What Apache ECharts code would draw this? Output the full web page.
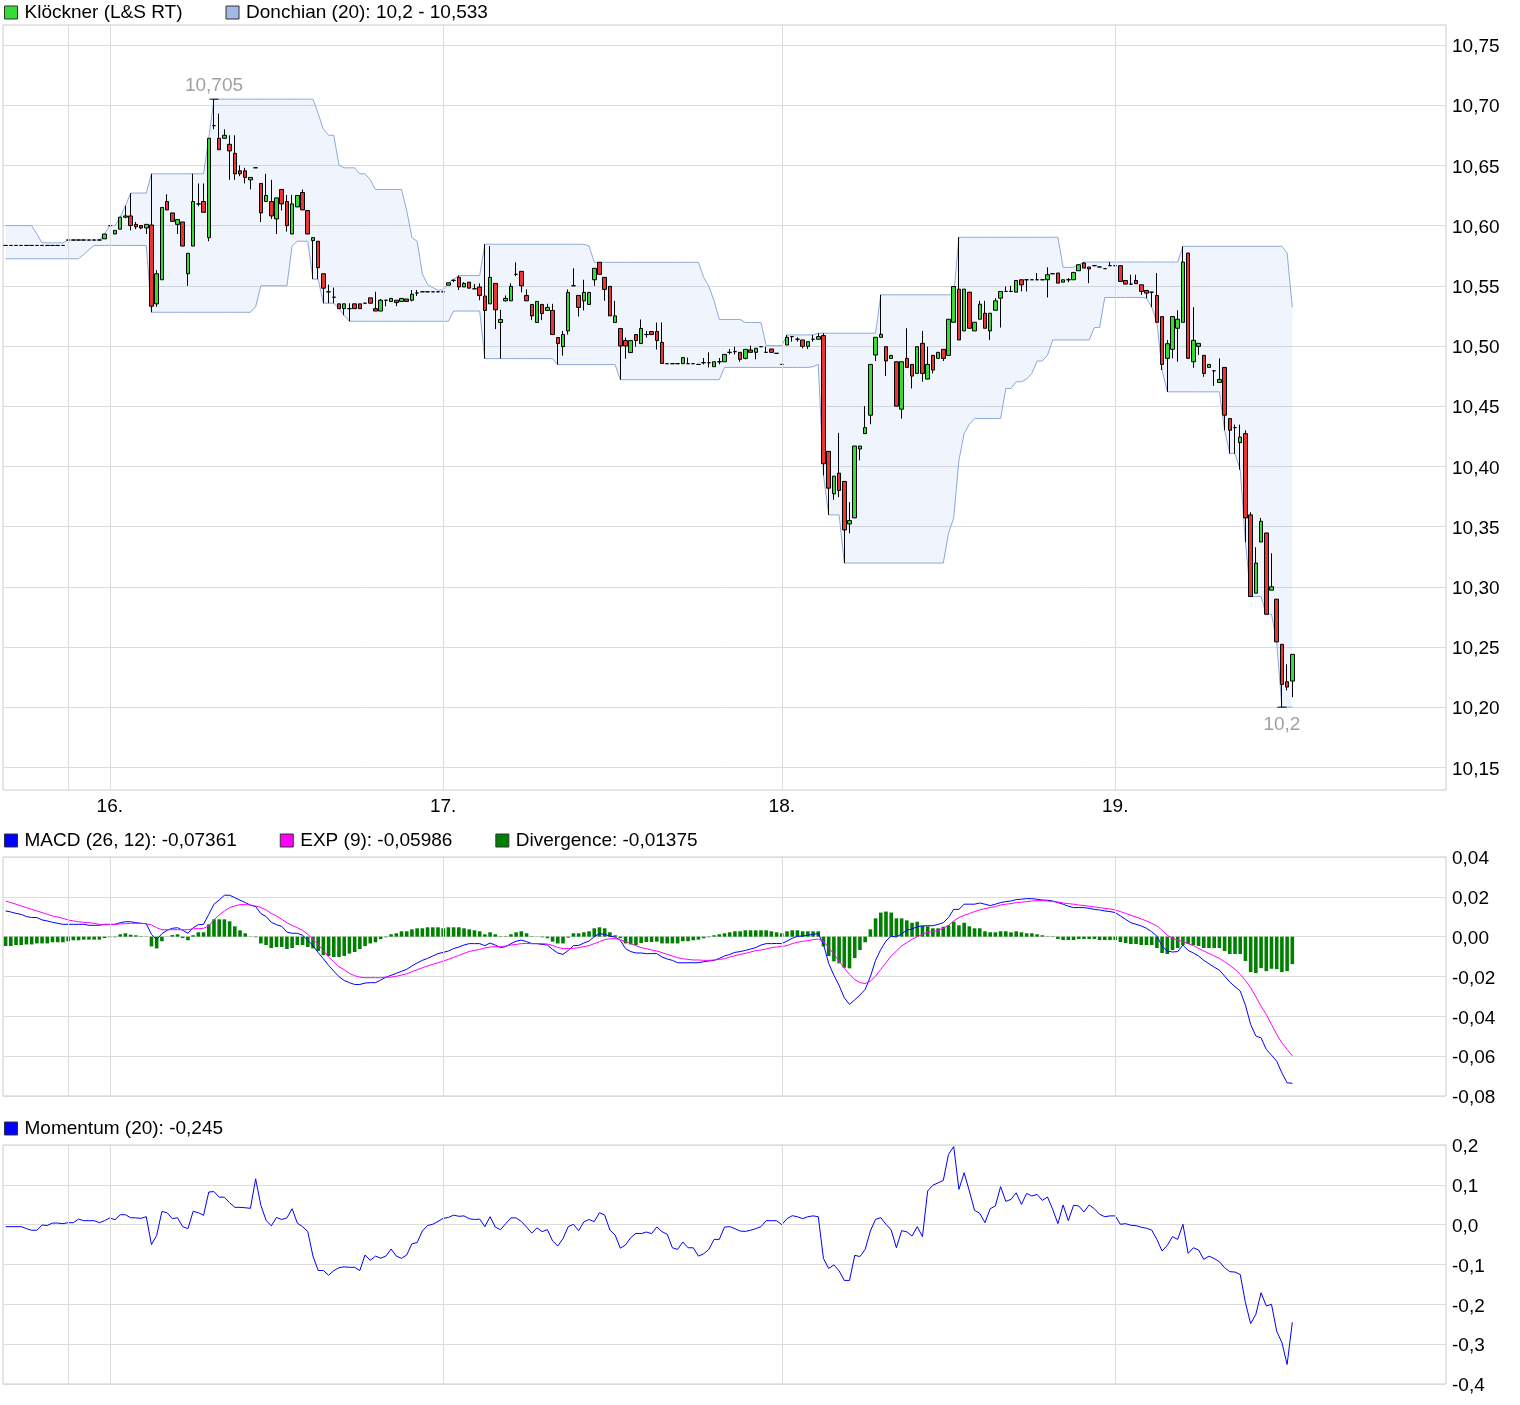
<!DOCTYPE html>
<html><head><meta charset="utf-8">
<script src="https://cdn.jsdelivr.net/npm/echarts@6.0.0/dist/echarts.min.js"></script>
<style>html,body{margin:0;padding:0;background:#fff}#c{width:1520px;height:1405px}</style>
</head><body><div id="c"></div>
<script>
// ---------- DATA ----------
// candles: [open, close, low, high]
const candles = [
[10.5835,10.5835,10.5835,10.5835],[10.5835,10.5835,10.5835,10.5835],[10.5835,10.5835,10.5835,10.5835],[10.5835,10.5835,10.5835,10.5835],
[10.5835,10.5835,10.5835,10.5835],[10.5835,10.5835,10.5835,10.5835],[10.5835,10.5835,10.5835,10.5835],[10.5835,10.5835,10.5835,10.5835],
[10.5835,10.5835,10.5835,10.5835],[10.5835,10.5835,10.5835,10.5835],[10.5835,10.5835,10.5835,10.5835],[10.5835,10.5835,10.5835,10.5835],
[10.588,10.588,10.588,10.588],[10.588,10.588,10.588,10.588],[10.588,10.588,10.588,10.588],[10.588,10.588,10.588,10.588],
[10.588,10.588,10.588,10.588],[10.588,10.588,10.588,10.588],[10.588,10.588,10.588,10.588],
[10.589,10.593,10.589,10.593],[10.600,10.600,10.600,10.600],[10.593,10.596,10.593,10.596],[10.597,10.607,10.597,10.607],
[10.607,10.608,10.606,10.6165],[10.608,10.600,10.596,10.627],[10.601,10.599,10.597,10.603],[10.600,10.598,10.597,10.600],
[10.598,10.601,10.593,10.601],[10.6005,10.533,10.528,10.643],[10.535,10.560,10.5325,10.563],[10.555,10.615,10.555,10.615],
[10.620,10.613,10.613,10.626],[10.6105,10.6035,10.6035,10.6105],[10.601,10.605,10.593,10.605],[10.603,10.583,10.583,10.603],
[10.560,10.577,10.550,10.577],[10.583,10.620,10.583,10.643],[10.618,10.618,10.616,10.635],[10.620,10.611,10.611,10.635],
[10.590,10.6725,10.587,10.6725],[10.683,10.683,10.680,10.705],[10.6725,10.663,10.663,10.693],[10.6725,10.675,10.6725,10.680],
[10.6675,10.662,10.638,10.675],[10.660,10.643,10.638,10.675],[10.6455,10.643,10.641,10.650],[10.6455,10.640,10.635,10.648],
[10.638,10.640,10.630,10.640],[10.648,10.648,10.648,10.648],[10.635,10.6105,10.603,10.635],[10.620,10.625,10.620,10.643],
[10.620,10.608,10.6055,10.638],[10.6055,10.623,10.593,10.623],[10.630,10.618,10.6125,10.630],[10.620,10.600,10.595,10.6255],
[10.593,10.618,10.593,10.6255],[10.6155,10.625,10.6155,10.625],[10.6275,10.613,10.613,10.630],[10.6125,10.593,10.593,10.6125],
[10.5875,10.590,10.5555,10.590],[10.587,10.565,10.5555,10.587],[10.560,10.548,10.5355,10.560],[10.545,10.545,10.5355,10.551],
[10.5405,10.5405,10.5355,10.5485],[10.535,10.531,10.531,10.535],[10.531,10.535,10.5255,10.535],[10.531,10.531,10.5205,10.5355],
[10.535,10.531,10.531,10.535],[10.535,10.531,10.531,10.535],[10.5355,10.5355,10.5355,10.5355],[10.540,10.5355,10.5355,10.540],
[10.531,10.529,10.529,10.545],[10.529,10.538,10.529,10.539],[10.538,10.538,10.533,10.538],[10.537,10.5395,10.537,10.5395],
[10.538,10.536,10.533,10.538],[10.537,10.5395,10.537,10.5395],[10.539,10.537,10.537,10.539],[10.538,10.543,10.537,10.5465],
[10.544,10.544,10.5415,10.5465],[10.545,10.545,10.545,10.545],[10.545,10.545,10.545,10.545],[10.545,10.545,10.545,10.545],
[10.545,10.545,10.545,10.545],[10.545,10.545,10.545,10.545],[10.5505,10.5525,10.5505,10.5525],[10.5545,10.5545,10.553,10.5555],
[10.557,10.549,10.5465,10.5585],[10.549,10.552,10.549,10.553],[10.553,10.548,10.548,10.553],[10.5475,10.5475,10.5475,10.5515],
[10.549,10.542,10.538,10.552],[10.5415,10.5295,10.4895,10.5845],[10.535,10.557,10.535,10.583],[10.552,10.530,10.514,10.552],
[10.5195,10.522,10.4895,10.530],[10.5375,10.5395,10.537,10.542],[10.5375,10.5495,10.5375,10.552],[10.5595,10.5595,10.558,10.5695],
[10.562,10.550,10.5445,10.562],[10.542,10.5375,10.5375,10.547],[10.5345,10.525,10.5215,10.5345],[10.5195,10.537,10.5195,10.537],
[10.5345,10.527,10.5215,10.5345],[10.5295,10.532,10.5295,10.535],[10.5295,10.5095,10.5095,10.535],[10.507,10.502,10.4845,10.507],
[10.4995,10.5095,10.492,10.5125],[10.5125,10.5445,10.5095,10.547],[10.550,10.550,10.550,10.5645],[10.542,10.532,10.5245,10.542],
[10.5375,10.5445,10.5295,10.555],[10.5345,10.5445,10.5345,10.5445],[10.555,10.5645,10.550,10.5645],[10.5695,10.5595,10.5595,10.5695],
[10.557,10.547,10.5375,10.557],[10.5495,10.525,10.525,10.5495],[10.5195,10.525,10.5195,10.5375],[10.5145,10.500,10.472,10.5145],
[10.5045,10.500,10.4895,10.507],[10.4945,10.5045,10.4945,10.5045],[10.5095,10.5045,10.4995,10.5095],[10.502,10.5145,10.502,10.522],
[10.5095,10.5095,10.507,10.5125],[10.512,10.5095,10.5095,10.512],[10.512,10.5045,10.497,10.5195],[10.503,10.4855,10.4855,10.5195],
[10.4853,10.4853,10.4853,10.4853],[10.4853,10.4853,10.4853,10.4853],[10.4853,10.4853,10.4853,10.4853],[10.4853,10.4903,10.4853,10.491],
[10.4853,10.4853,10.4853,10.4903],[10.4853,10.4853,10.4853,10.4853],[10.4847,10.4847,10.4847,10.4847],[10.4861,10.4861,10.4847,10.490],
[10.4861,10.4861,10.4822,10.4947],[10.4828,10.4869,10.4828,10.4869],[10.4869,10.4869,10.4847,10.490],[10.4869,10.493,10.4869,10.493],
[10.4947,10.4947,10.493,10.4975],[10.4953,10.4953,10.493,10.4994],[10.4947,10.4889,10.4869,10.4947],[10.4897,10.4972,10.4889,10.4972],
[10.4967,10.4947,10.4947,10.5003],[10.4947,10.4981,10.4889,10.4981],[10.4994,10.4994,10.4994,10.4994],[10.4947,10.4947,10.4947,10.4994],
[10.4975,10.4947,10.4947,10.4975],[10.4939,10.4939,10.4939,10.4939],[10.4847,10.4847,10.4847,10.4847],[10.5008,10.5072,10.5008,10.5092],
[10.5078,10.5078,10.5036,10.5078],[10.5056,10.5056,10.5036,10.5072],[10.505,10.4997,10.498,10.505],[10.4997,10.5036,10.4975,10.5036],
[10.5056,10.5056,10.5036,10.5092],[10.5056,10.5078,10.5056,10.5106],[10.5086,10.4022,10.3925,10.5106],[10.4125,10.3819,10.3597,10.4125],
[10.3772,10.3919,10.3722,10.3919],[10.3944,10.380,10.3744,10.4278],[10.3875,10.3472,10.3197,10.3875],[10.3522,10.355,10.3444,10.3703],
[10.3572,10.4169,10.3572,10.4169],[10.4144,10.4169,10.405,10.4169],[10.4272,10.4322,10.4272,10.450],[10.4425,10.4847,10.435,10.4847],
[10.4925,10.5072,10.4875,10.5072],[10.5072,10.5097,10.5072,10.5425],[10.4994,10.4875,10.475,10.4994],[10.4897,10.4922,10.4897,10.4922],
[10.4869,10.450,10.450,10.4869],[10.4475,10.4869,10.4397,10.4869],[10.4897,10.4822,10.4822,10.5147],[10.4847,10.475,10.4647,10.4847],
[10.4772,10.4994,10.4772,10.4994],[10.5022,10.4772,10.4703,10.5125],[10.4725,10.4847,10.4725,10.4994],[10.4922,10.480,10.4772,10.4922],
[10.4897,10.4947,10.4897,10.4947],[10.4972,10.4897,10.4875,10.4972],[10.4922,10.5222,10.4922,10.5222],[10.5197,10.5494,10.5197,10.5494],
[10.5472,10.505,10.505,10.5903],[10.5125,10.5472,10.5125,10.5472],[10.5447,10.5147,10.5147,10.5447],[10.5125,10.5197,10.5125,10.5197],
[10.5222,10.5347,10.5222,10.5375],[10.5272,10.5147,10.5147,10.5375],[10.5125,10.5272,10.505,10.5272],[10.5297,10.5375,10.5297,10.5397],
[10.5397,10.5453,10.5153,10.5453],[10.5453,10.5453,10.5453,10.5494],[10.5453,10.5453,10.5447,10.55],[10.5447,10.5544,10.5447,10.5544],
[10.555,10.5508,10.5453,10.555],[10.555,10.555,10.5453,10.555],[10.555,10.555,10.555,10.555],[10.555,10.555,10.555,10.5606],
[10.555,10.555,10.555,10.555],[10.555,10.5592,10.5403,10.5653],[10.560,10.560,10.560,10.5606],[10.5606,10.5522,10.5522,10.5606],
[10.553,10.555,10.553,10.555],[10.555,10.555,10.553,10.5564],[10.555,10.5611,10.555,10.5611],[10.5625,10.5675,10.5625,10.5675],
[10.5689,10.5647,10.5647,10.5697],[10.5656,10.564,10.5522,10.5656],[10.5667,10.5667,10.5667,10.5667],[10.5656,10.5656,10.5656,10.5656],
[10.5642,10.5642,10.5642,10.5642],[10.5667,10.5667,10.5667,10.5697],[10.5667,10.5667,10.5667,10.5667],[10.5667,10.5536,10.5536,10.5667],
[10.5544,10.5514,10.5514,10.5544],[10.5514,10.5514,10.5508,10.5592],[10.5544,10.5517,10.5517,10.5592],[10.5508,10.5453,10.5425,10.5508],
[10.5461,10.5439,10.5397,10.5461],[10.5447,10.5447,10.5322,10.5447],[10.5419,10.5197,10.5197,10.5606],[10.5244,10.4847,10.480,10.5244],
[10.4897,10.5019,10.4619,10.505],[10.4972,10.5244,10.4897,10.5244],[10.5147,10.5222,10.4869,10.5297],[10.5197,10.5697,10.5197,10.5828],
[10.5772,10.4897,10.4897,10.5772],[10.4869,10.5047,10.4819,10.5322],[10.4997,10.5022,10.4925,10.5022],[10.4922,10.4772,10.4744,10.4922],
[10.4822,10.4847,10.4822,10.4847],[10.4794,10.4794,10.4669,10.4794],[10.4697,10.4722,10.4697,10.4897],[10.4822,10.4425,10.430,10.4822],
[10.4397,10.430,10.4106,10.4397],[10.4322,10.4322,10.4106,10.4347],[10.4197,10.4244,10.3972,10.4347],[10.4272,10.3572,10.3369,10.430],
[10.3597,10.2919,10.2919,10.3619],[10.2947,10.3197,10.2947,10.3328],[10.3372,10.3544,10.3372,10.3572],[10.3447,10.2772,10.2772,10.3447],
[10.2972,10.300,10.2972,10.3278],[10.2897,10.2542,10.2542,10.2897],[10.2522,10.2189,10.200,10.2522],[10.2211,10.2167,10.2139,10.2356],
[10.2217,10.2439,10.2083,10.2439]
];

const donchianUpper = [
10.600,10.600,10.600,10.600,10.600,10.600,10.593,10.5857,10.5857,10.5857,10.5857,10.5857,
10.588,10.588,10.588,10.588,10.588,10.588,10.588,
10.593,10.600,10.600,10.607,10.6165,10.627,10.627,10.627,10.627,
10.643,10.643,10.643,10.643,10.643,10.643,10.643,10.643,10.643,10.643,10.643,
10.6725,
10.705,10.705,10.705,10.705,10.705,10.705,10.705,10.705,10.705,10.705,
10.705,10.705,10.705,10.705,10.705,10.705,10.705,10.705,10.705,10.705,
10.693,10.680,10.675,10.675,10.650,10.648,10.648,10.648,10.643,10.643,10.638,
10.630,10.630,10.630,10.630,10.630,10.630,
10.6125,10.590,10.587,10.560,10.551,10.5485,10.5465,10.5465,10.5525,10.5555,
10.5585,10.5585,10.5585,10.5585,10.5585,
10.5845,10.5845,10.5845,10.5845,10.5845,10.5845,10.5845,10.5845,10.5845,10.5845,
10.5845,10.5845,10.5845,10.5845,10.5845,10.5845,10.5845,10.5845,10.5845,10.5845,
10.583,
10.5695,10.5695,10.5695,10.5695,10.5695,10.5695,10.5695,10.5695,10.5695,10.5695,10.5695,
10.5695,10.5695,10.5695,10.5695,10.5695,10.5695,10.5695,10.5695,10.5695,10.5695,
10.557,10.5495,10.5375,10.522,10.522,10.522,10.522,10.522,
10.5195,10.5195,10.5195,10.5195,10.5003,10.5003,10.5003,10.5003,
10.5092,10.5092,10.5092,10.5092,10.5092,10.5092,
10.5106,10.5106,10.5106,10.5106,10.5106,10.5106,10.5106,10.5106,10.5106,10.5106,10.5106,10.5106,
10.5425,10.5425,10.5425,10.5425,10.5425,10.5425,10.5425,10.5425,10.5425,10.5425,10.5425,10.5425,10.5425,10.5425,10.5425,
10.5903,10.5903,10.5903,10.5903,10.5903,10.5903,10.5903,10.5903,10.5903,10.5903,
10.5903,10.5903,10.5903,10.5903,10.5903,10.5903,10.5903,10.5903,10.5903,10.5903,
10.5653,10.5653,10.5653,10.5675,
10.5697,10.5697,10.5697,10.5697,10.5697,10.5697,10.5697,10.5697,10.5697,10.5697,
10.5697,10.5697,10.5697,10.5697,10.5697,10.5697,10.5697,10.5697,10.5697,
10.5828,10.5828,10.5828,10.5828,10.5828,10.5828,10.5828,10.5828,10.5828,10.5828,
10.5828,10.5828,10.5828,10.5828,10.5828,10.5828,10.5828,10.5828,10.5828,10.5828,
10.5772,10.5322
];

const donchianLower = [
10.5724,10.5724,10.5724,10.5724,10.5724,10.5724,10.5724,10.5724,10.5724,10.5724,10.5724,10.5724,10.5724,10.5724,10.5724,
10.576,10.580,
10.5835,10.5835,10.5835,10.5835,10.5835,10.5835,10.5835,10.5835,10.5835,10.5835,10.5835,
10.528,10.528,10.528,10.528,10.528,10.528,10.528,10.528,10.528,10.528,
10.528,10.528,10.528,10.528,10.528,10.528,10.528,10.528,10.528,10.528,
10.5325,10.550,10.550,10.550,10.550,10.550,10.550,10.583,10.587,10.587,10.587,
10.5555,10.5555,10.5355,10.5355,10.5355,10.531,10.5255,
10.5205,10.5205,10.5205,10.5205,10.5205,10.5205,10.5205,10.5205,10.5205,10.5205,
10.5205,10.5205,10.5205,10.5205,10.5205,10.5205,10.5205,10.5205,10.5205,10.5205,
10.529,10.529,10.529,10.529,10.529,10.529,
10.4895,10.4895,10.4895,10.4895,10.4895,10.4895,10.4895,10.4895,10.4895,10.4895,10.4895,10.4895,10.4895,10.4895,
10.4845,10.4845,10.4845,10.4845,10.4845,10.4845,10.4845,10.4845,10.4845,10.4845,10.4845,10.4845,
10.472,10.472,10.472,10.472,10.472,10.472,10.472,10.472,10.472,10.472,
10.472,10.472,10.472,10.472,10.472,10.472,10.472,10.472,10.472,10.472,
10.4822,10.4822,10.4822,10.4822,10.4822,10.4822,10.4822,10.4822,10.4822,10.4822,
10.4822,10.4822,10.4822,10.4822,10.4822,10.4822,10.4822,
10.4828,10.4847,10.3925,10.3597,10.3597,10.3597,
10.3197,10.3197,10.3197,10.3197,10.3197,10.3197,10.3197,10.3197,10.3197,10.3197,
10.3197,10.3197,10.3197,10.3197,10.3197,10.3197,10.3197,10.3197,10.3197,10.3197,
10.3444,10.3572,10.405,10.4272,10.435,
10.4397,10.4397,10.4397,10.4397,10.4397,10.4397,
10.4647,10.4647,10.4703,10.4703,10.4725,10.4772,10.4875,10.4875,10.4922,
10.505,10.505,10.505,10.505,10.505,10.505,10.505,10.505,
10.5153,10.5153,
10.5403,10.5403,10.5403,10.5403,10.5403,10.5403,10.5403,10.5403,
10.5397,10.5322,10.5197,10.480,
10.4619,10.4619,10.4619,10.4619,10.4619,10.4619,10.4619,10.4619,10.4619,10.4619,10.4619,
10.430,10.4106,10.4106,10.3972,10.3369,10.2919,10.2919,10.2919,10.2772,10.2772,10.2542,
10.200,10.200,10.200
];

const macd = [
0.0129,0.0124,0.0117,0.0112,0.0101,0.0096,0.0096,0.0084,0.0079,0.0072,
0.0067,0.0062,0.0062,0.0062,0.0062,0.0062,0.0057,0.0057,0.0057,0.0062,
0.0062,0.0062,0.007,0.0075,0.0075,0.007,0.0067,0.0065,0.0012,-0.0015,
0.0015,0.0032,0.0042,0.0045,0.0032,0.0017,0.0045,0.006,0.0062,0.0112,
0.0163,0.0184,0.0208,0.0208,0.0196,0.0183,0.0171,0.0158,0.0151,0.0116,
0.0101,0.0072,0.006,0.0052,0.0023,0.0017,0.0017,0.0007,-0.0018,-0.0044,
-0.008,-0.0111,-0.0144,-0.0173,-0.0201,-0.022,-0.0231,-0.024,-0.024,-0.0233,
-0.0231,-0.0231,-0.0218,-0.0204,-0.0194,-0.0184,-0.0174,-0.0164,-0.0147,-0.0132,
-0.0119,-0.0109,-0.0097,-0.0085,
-0.0079,-0.0072,-0.006,-0.0052,-0.0042,-0.0035,-0.0035,-0.0035,-0.0045,-0.0032,
-0.0042,-0.0055,-0.005,-0.0035,-0.0023,-0.0017,-0.0025,-0.0035,-0.0035,-0.0039,
-0.0042,-0.0064,-0.0082,-0.0089,-0.0069,-0.0045,-0.0044,-0.0032,-0.0022,0,
0.0015,0.0012,0.0002,-0.0002,-0.0018,-0.006,-0.0075,-0.0082,-0.0082,-0.0085,
-0.0085,-0.0085,-0.0102,-0.0112,-0.0119,-0.0131,-0.0131,-0.0131,-0.0131,-0.0131,
-0.0126,-0.0122,-0.0119,-0.0109,-0.0097,-0.0089,-0.0079,-0.0075,-0.0069,-0.0062,
-0.0055,-0.0042,-0.0035,-0.0035,-0.0034,-0.0035,-0.0022,-0.0008,0.0002,0.0003,
0.0007,0.0012,0.0015,-0.0039,-0.0134,-0.0194,-0.0245,-0.0307,-0.034,-0.0317,
-0.0293,-0.0265,-0.0201,
-0.0119,-0.0064,-0.0022,0.0003,-0.0002,0.0015,0.0032,0.0039,0.005,0.0054,
0.0055,0.0055,0.0062,0.007,0.0096,0.0137,0.0137,0.0163,0.0163,0.0163,
0.0169,0.0163,0.0156,0.0163,0.0171,0.0176,0.0179,0.0186,0.0188,0.0191,
0.0191,0.0188,0.0184,0.0183,0.0179,0.0171,0.0163,0.0153,0.0146,0.0146,
0.0146,0.0142,0.0137,0.0134,0.0129,0.0126,0.0121,0.0104,0.0087,0.007,
0.0062,0.0054,0.0042,0.0025,0.0003,-0.0047,-0.0072,-0.0077,-0.0075,-0.0042,
-0.0069,-0.0082,-0.0097,-0.0119,-0.0136,-0.0153,-0.0168,-0.0198,-0.0228,-0.0251,
-0.0273,-0.0344,-0.0441,-0.0499,-0.0508,-0.0566,-0.0595,-0.0625,-0.0684,-0.0734,
-0.0736
];

const signal = [
0.0179,0.0171,0.0163,0.0154,0.0146,0.0137,0.0129,0.0121,0.0112,0.0104,
0.0099,0.0092,0.0084,0.0079,0.0075,0.0072,0.007,0.0067,0.0062,0.006,
0.006,0.0062,0.0064,0.0065,0.0067,0.0067,0.0067,0.0065,0.0059,0.0045,
0.0035,0.0035,0.0035,0.0035,0.0035,0.0035,0.004,0.004,0.0042,0.0054,
0.0084,0.0109,0.0129,0.0146,0.0154,0.0161,0.0161,0.0159,0.0154,0.0147,
0.0134,0.0117,0.0104,0.0087,0.007,0.0057,0.0045,0.0032,0.0012,-0.0013,
-0.0039,-0.007,-0.0102,-0.0126,-0.0151,-0.0166,-0.0184,-0.0196,-0.0203,-0.0206,
-0.0206,-0.0206,-0.0206,-0.0203,-0.0203,-0.0199,-0.0193,-0.0186,-0.0176,-0.0166,
-0.0156,-0.0147,-0.0139,-0.0131,
-0.0122,-0.0114,-0.0104,-0.0094,-0.0084,-0.0074,-0.0069,-0.0064,-0.0057,-0.0052,
-0.005,-0.005,-0.0047,-0.0042,-0.0039,-0.0035,-0.0034,-0.0035,-0.0035,-0.0035,
-0.0037,-0.0044,-0.0054,-0.006,-0.006,-0.0059,-0.0055,-0.005,-0.0045,-0.0035,
-0.0025,-0.0015,-0.001,-0.001,-0.0015,-0.0025,-0.0035,-0.0045,-0.0055,-0.006,
-0.0067,-0.0072,-0.008,-0.0089,-0.0097,-0.0106,-0.0111,-0.0114,-0.0117,-0.0117,
-0.0119,-0.0119,-0.0117,-0.0114,-0.0111,-0.0102,-0.0096,-0.0089,-0.0084,-0.0077,
-0.007,-0.0067,-0.0062,-0.0055,-0.0052,-0.0049,-0.0045,-0.0035,-0.0028,-0.0023,
-0.002,-0.0015,-0.0012,-0.0025,-0.0055,-0.0089,-0.0122,-0.0159,-0.0189,-0.0215,
-0.0231,-0.0235,-0.0223,-0.0198,-0.0164,-0.0131,-0.0097,-0.0072,-0.0047,-0.003,
-0.0013,0,0.0012,0.0022,0.0025,0.0032,0.0042,0.0057,0.0079,0.0096,
0.0107,0.0116,0.0126,0.0134,0.0141,0.0146,0.0151,0.0159,0.0163,0.0166,
0.0171,0.0173,0.0176,0.0179,0.0181,0.0181,0.0179,0.0176,0.0174,0.0169,
0.0166,0.0163,0.0159,0.0156,0.0153,0.0149,0.0146,0.0142,0.0139,0.0134,
0.0126,0.0117,0.0107,0.0099,0.0089,0.0079,0.0067,0.0054,0.0032,0.0007,
-0.0008,-0.0017,-0.0025,-0.0035,-0.0045,-0.0059,-0.0072,-0.0084,-0.0097,-0.0109,
-0.0126,-0.0144,-0.0164,-0.0189,-0.022,-0.0256,-0.0302,-0.0349,-0.039,-0.0441,
-0.0491,-0.0533,-0.0566,-0.0599
];

const divergence = [
-0.0047,-0.0047,-0.0042,-0.0042,-0.0039,-0.0039,-0.0034,-0.0034,-0.0034,-0.0028,
-0.0028,-0.0028,-0.0023,-0.0018,-0.0018,-0.0015,-0.0015,-0.0015,-0.0015,-0.0007,
-0.0003,-0.0003,0.0012,0.0017,0.001,0.0007,0.0002,0.0001,-0.0049,-0.0059,
-0.0023,-0.0001,0.0008,0.0012,-0.0007,-0.0018,0.0007,0.0022,0.0022,0.0062,
0.0087,0.0087,0.0087,0.0077,0.0052,0.0032,0.0017,0.0001,-0.0003,-0.0034,
-0.0042,-0.0057,-0.0052,-0.0052,-0.0062,-0.0057,-0.0042,-0.0042,-0.0052,-0.0059,
-0.0072,-0.0092,-0.0097,-0.0102,-0.0102,-0.0097,-0.0085,-0.0077,-0.0062,-0.0047,
-0.0034,-0.0028,-0.0012,-0.0003,0.0012,0.0017,0.0027,0.0027,0.0037,0.0042,
0.0042,0.0047,0.0047,0.0047,
0.0042,0.0047,0.0047,0.0047,0.0042,0.0037,0.0032,0.0027,0.0012,0.0022,
0.0012,0.0002,0.0002,0.0012,0.0022,0.0027,0.0017,0.0002,0.0001,-0.0003,
-0.0008,-0.0025,-0.0034,-0.0034,-0.0005,0.0017,0.0017,0.0022,0.0027,0.0042,
0.0047,0.0042,0.0022,0.0007,-0.0008,-0.0034,-0.0039,-0.0042,-0.0032,-0.0027,
-0.0027,-0.0025,-0.0034,-0.0034,-0.0034,-0.0034,-0.0023,-0.0023,-0.0018,-0.0015,
-0.0008,-0.0003,0.0007,0.0012,0.0017,0.0022,0.0027,0.0027,0.0032,0.0032,
0.0032,0.0032,0.0032,0.0027,0.0022,0.0017,0.0027,0.0032,0.0032,0.0027,
0.0027,0.0027,0.0027,-0.0049,-0.0097,-0.0124,-0.0134,-0.0156,-0.0159,-0.0107,
-0.0067,-0.0028,0.0037,0.0092,0.0121,0.0126,0.0121,0.0092,0.0092,0.0082,
0.007,0.0075,0.0055,0.0052,0.0042,0.0042,0.005,0.0057,0.0075,0.0057,
0.007,0.0052,0.0042,0.0042,0.0027,0.0022,0.0022,0.0027,0.0027,0.0022,
0.0027,0.0022,0.0017,0.0017,0.0012,0.0007,0.0002,0.0002,-0.0012,-0.0017,
-0.0017,-0.0017,-0.0012,-0.0012,-0.0012,-0.0012,-0.0017,-0.0017,-0.0017,-0.0017,
-0.0027,-0.0032,-0.0037,-0.0037,-0.0042,-0.0042,-0.0042,-0.0057,-0.0082,-0.0087,
-0.0067,-0.0057,-0.0042,-0.0037,-0.0042,-0.0047,-0.0057,-0.0057,-0.0057,-0.0057,
-0.0072,-0.0087,-0.0087,-0.0087,-0.0122,-0.0178,-0.0183,-0.0158,-0.0173,-0.0161,
-0.0163,-0.0178,-0.0173,-0.0138
];

const momentum = [
-0.005,-0.005,-0.005,-0.005,-0.01,-0.014,-0.014,-0.001,-0.002,0.004,
0.004,0.0025,0.005,0.005,0.014,0.01,0.01,0.01,0.005,0.01,
0.017,0.0125,0.025,0.025,0.0175,0.017,0.016,0.02,-0.05,-0.027,
0.033,0.03,0.015,0.0175,-0.005,-0.01,0.0335,0.03,0.0235,0.082,
0.083,0.069,0.069,0.055,0.0435,0.0435,0.0425,0.041,0.115,0.0485,
0.011,-0.003,0.018,0.013,0.017,0.04,0.004,-0.005,-0.017,-0.079,
-0.115,-0.115,-0.127,-0.1155,-0.108,-0.106,-0.107,-0.107,-0.115,-0.076,
-0.0895,-0.079,-0.084,-0.079,-0.061,-0.079,-0.0845,-0.076,-0.048,-0.045,
-0.016,-0.002,0.001,0.008,
0.016,0.018,0.024,0.021,0.022,0.015,0.013,0.014,-0.005,0.02,
-0.006,-0.0125,0.0025,0.017,0.017,0.008,-0.006,-0.021,-0.008,-0.0175,
-0.0125,-0.041,-0.0535,-0.035,-0.005,0.001,-0.015,0.007,0.013,0.0075,
0.03,0.024,-0.0135,-0.026,-0.059,-0.051,-0.0325,-0.022,-0.0225,-0.0185,
-0.0225,-0.006,-0.0175,-0.024,-0.058,-0.062,-0.0435,-0.058,-0.058,-0.079,
-0.073,-0.062,-0.037,-0.037,-0.006,-0.005,-0.01,-0.016,-0.017,-0.014,
-0.01,-0.005,0.01,0.01,0.01,0,0.015,0.0225,0.02,0.015,
0.02,0.022,0.02,-0.085,-0.11,-0.101,-0.116,-0.14,-0.14,-0.077,
-0.08,-0.062,-0.016,0.0135,0.0175,0.001,-0.0135,-0.058,-0.015,-0.018,
-0.0285,-0.005,-0.03,0.0845,0.099,0.105,0.111,0.1765,0.196,0.0885,
0.1305,0.0845,0.036,0.0285,0.005,0.04,0.047,0.0955,0.0585,0.0635,
0.08,0.051,0.0785,0.072,0.076,0.061,0.0695,0.0385,0.0025,0.0495,
0.01,0.0485,0.047,0.032,0.0495,0.04,0.026,0.02,0.022,0.022,
0.001,0.0025,-0.0015,-0.0025,-0.0065,-0.009,-0.0135,-0.037,-0.066,-0.052,
-0.03,-0.037,0.001,-0.072,-0.058,-0.0635,-0.087,-0.079,-0.085,-0.093,
-0.108,-0.118,-0.119,-0.125,-0.196,-0.2485,-0.225,-0.171,-0.204,-0.2,
-0.2675,-0.296,-0.351,-0.245
];

const priceTicks = [10.15,10.20,10.25,10.30,10.35,10.40,10.45,10.50,10.55,10.60,10.65,10.70,10.75];
const dayIdx = [20, 84, 149, 213];
const dayLabels = ['16.', '17.', '18.', '19.'];
const vLineIdx = [12, 20, 84, 149, 213];
const legendMain = ['Klöckner (L&S RT)', 'Donchian (20): 10,2 - 10,533'];
const legendMacd = ['MACD (26, 12): -0,07361', 'EXP (9): -0,05986', 'Divergence: -0,01375'];
const legendMom = ['Momentum (20): -0,245'];

// ---------- CHART ----------
const SLOTS = 277;
const cats = Array.from({length: SLOTS}, (_, i) => String(i));
const FONT = '"Liberation Sans", Arial, Helvetica, sans-serif';
const band = donchianUpper.map((u, i) => +(u - donchianLower[i]).toFixed(4));
const comma = (s) => String(s).replace('.', ',');
const gridStyle = {show: true, borderColor: '#cccccc', borderWidth: 1, backgroundColor: 'transparent'};
const vLines = {
  silent: true, symbol: ['none', 'none'], animation: false,
  label: {show: false},
  lineStyle: {color: '#dcdcdc', width: 1, type: 'solid'},
  emphasis: {disabled: true},
  data: vLineIdx.map(i => ({xAxis: i}))
};
const xBase = (gi, showLabels) => ({
  type: 'category', gridIndex: gi, data: cats, boundaryGap: true,
  axisLine: {show: false}, axisTick: {show: false}, splitLine: {show: false},
  axisLabel: showLabels ? {
    show: true, interval: (idx) => dayIdx.indexOf(idx) >= 0,
    formatter: (v, idx) => { const k = dayIdx.indexOf(Number(v)); return k >= 0 ? dayLabels[k] : ''; },
    color: '#000', fontSize: 19, fontFamily: FONT, margin: 7
  } : {show: false}
});
const legendText = {color: '#000', fontSize: 19, fontFamily: FONT, padding: [0, 0, 0, 2]};
const icon = (name, color) => ({name, icon: 'rect', itemStyle: {color, borderColor: '#333', borderWidth: 1}});
// y labels rendered as rich text, nudged 2px down to sit on the grid line like the original
const yLabel = {color: '#000', fontSize: 19, fontFamily: FONT, margin: 6,
  rich: {p: {padding: [4, 0, 0, 0], fontSize: 19, fontFamily: FONT, color: '#000'}}};
const rich = (s) => '{p|' + s + '}';

const chart = echarts.init(document.getElementById('c'), null, {renderer: 'canvas'});
chart.setOption({
  animation: false,
  backgroundColor: '#fff',
  textStyle: {fontFamily: FONT},
  legend: [
    {left: 4, top: 3, padding: 0, itemWidth: 13, itemHeight: 13, itemGap: 43, selectedMode: false, textStyle: legendText,
     data: [icon(legendMain[0], '#33DD33'), icon(legendMain[1], '#A3B8E4')]},
    {left: 4, top: 831, padding: 0, itemWidth: 13, itemHeight: 13, itemGap: 43, selectedMode: false, textStyle: legendText,
     data: [icon(legendMacd[0], '#0000FF'), icon(legendMacd[1], '#FF00FF'), icon(legendMacd[2], '#008000')]},
    {left: 4, top: 1119, padding: 0, itemWidth: 13, itemHeight: 13, itemGap: 43, selectedMode: false, textStyle: legendText,
     data: [icon(legendMom[0], '#0000FF')]}
  ],
  grid: [
    Object.assign({left: 3, top: 25, width: 1443, height: 765}, gridStyle),
    Object.assign({left: 3, top: 857, width: 1443, height: 239}, gridStyle),
    Object.assign({left: 3, top: 1145, width: 1443, height: 239}, gridStyle)
  ],
  xAxis: [xBase(0, true), xBase(1, false), xBase(2, false)],
  yAxis: [
    {type: 'value', gridIndex: 0, position: 'right', min: 10.1312, max: 10.7666, scale: true,
     axisLine: {show: false}, axisTick: {show: false, customValues: priceTicks},
     axisLabel: Object.assign({customValues: priceTicks, formatter: v => rich(v.toFixed(2).replace('.', ','))}, yLabel),
     splitLine: {show: true, lineStyle: {color: '#dcdcdc', width: 1}}},
    {type: 'value', gridIndex: 1, position: 'right', min: -0.08, max: 0.04, interval: 0.02,
     axisLine: {show: false}, axisTick: {show: false},
     axisLabel: Object.assign({formatter: v => rich(v.toFixed(2).replace('.', ',').replace('-0,00', '0,00'))}, yLabel),
     splitLine: {show: true, lineStyle: {color: '#dcdcdc', width: 1}}},
    {type: 'value', gridIndex: 2, position: 'right', min: -0.4, max: 0.2, interval: 0.1,
     axisLine: {show: false}, axisTick: {show: false},
     axisLabel: Object.assign({formatter: v => rich(v.toFixed(1).replace('.', ',').replace('-0,0', '0,0'))}, yLabel),
     splitLine: {show: true, lineStyle: {color: '#dcdcdc', width: 1}}}
  ],
  series: [
    {name: 'dcLower', type: 'line', xAxisIndex: 0, yAxisIndex: 0, stack: 'dc', data: donchianLower,
     symbol: 'none', showSymbol: false, lineStyle: {color: '#8FAADC', width: 1}, z: 1, silent: true,
     markLine: vLines},
    {name: legendMain[1], type: 'line', xAxisIndex: 0, yAxisIndex: 0, stack: 'dc', data: band,
     symbol: 'none', showSymbol: false, lineStyle: {color: '#8FAADC', width: 1},
     itemStyle: {color: '#A3B8E4'},
     areaStyle: {color: 'rgba(100,149,237,0.15)'}, z: 2, silent: true},
    {name: legendMain[0], type: 'candlestick', xAxisIndex: 0, yAxisIndex: 0, data: candles, barWidth: 4, z: 3,
     itemStyle: {color: '#33DD33', color0: '#EE3333', borderColor: '#000', borderColor0: '#000', borderColorDoji: '#000', borderWidth: 1},
     markPoint: {
       symbol: 'rect', symbolSize: [9, 1], itemStyle: {color: '#000'}, silent: true, animation: false,
       label: {show: true, color: '#A0A0A0', fontSize: 19, fontFamily: FONT, formatter: p => comma(p.value)},
       data: [
         {type: 'max', valueDim: 'highest', label: {position: 'top', distance: 3}},
         {type: 'min', valueDim: 'lowest', label: {position: 'bottom', distance: 8}}
       ]
     }},
    {name: legendMacd[2], type: 'bar', xAxisIndex: 1, yAxisIndex: 1, data: divergence, barWidth: 3.6,
     itemStyle: {color: '#008000'}, z: 2, silent: true, markLine: vLines},
    {name: legendMacd[0], type: 'line', xAxisIndex: 1, yAxisIndex: 1, data: macd, symbol: 'none', showSymbol: false,
     lineStyle: {color: '#0000FF', width: 1}, itemStyle: {color: '#0000FF'}, z: 3, silent: true},
    {name: legendMacd[1], type: 'line', xAxisIndex: 1, yAxisIndex: 1, data: signal, symbol: 'none', showSymbol: false,
     lineStyle: {color: '#FF00FF', width: 1}, itemStyle: {color: '#FF00FF'}, z: 3, silent: true},
    {name: legendMom[0], type: 'line', xAxisIndex: 2, yAxisIndex: 2, data: momentum, symbol: 'none', showSymbol: false,
     lineStyle: {color: '#0000FF', width: 1}, itemStyle: {color: '#0000FF'}, z: 3, silent: true, markLine: vLines}
  ]
});
</script>
</body></html>
